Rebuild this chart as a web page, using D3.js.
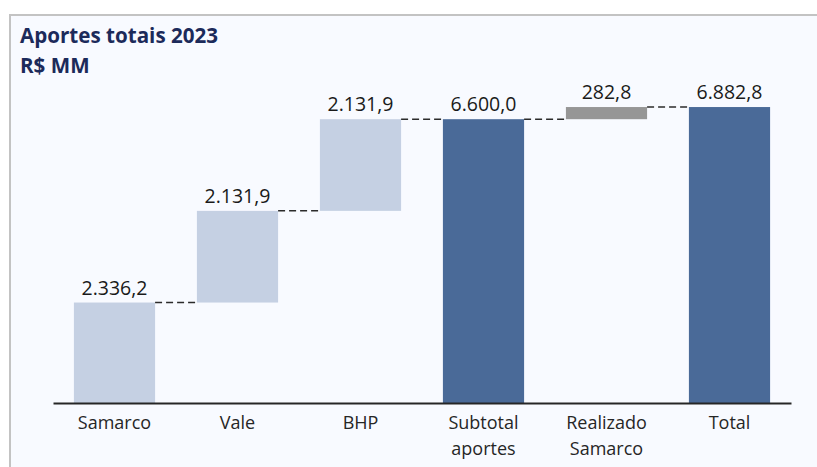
<!DOCTYPE html>
<html lang="pt">
<head>
    <meta charset="UTF-8">
    <title>Aportes totais 2023</title>
    <script src="https://cdn.jsdelivr.net/npm/d3@7"></script>
    <style>
        body { margin: 0; background: #ffffff; }
        .title { font-family: "Open Sans", sans-serif; font-weight: bold; font-size: 20.6px; fill: #1c2a5a; }
        .axis path, .axis line { stroke: #262626; }
        .axis text { font-family: "Open Sans", sans-serif; font-size: 18px; fill: #262626; }
        .val { font-family: "Open Sans", sans-serif; font-size: 19.5px; fill: #1a1a1a; }
    </style>
</head>
<body>
<script>
    // dados
    var categories = ["Samarco", "Vale", "BHP", "Subtotal aportes", "Realizado Samarco", "Total"];
    var values = [2336.2, 2131.9, 2131.9, 6600.0, 282.8, 6882.8];
    var kinds = ["aporte", "aporte", "aporte", "subtotal", "realizado", "total"];

    var width = 817;
    var height = 467;
    var svg = d3.select("body")
        .append("svg")
        .attr("width", width)
        .attr("height", height);

    // painel de fundo
    svg.append("rect")
        .attr("x", 10)
        .attr("y", 15)
        .attr("width", 820)
        .attr("height", 470)
        .attr("fill", "#f8faff")
        .attr("stroke", "#c3c3c3")
        .attr("stroke-width", 2);

    svg.append("text").attr("class", "title").attr("x", 20).attr("y", 43).text("Aportes totais 2023");
    svg.append("text").attr("class", "title").attr("x", 20).attr("y", 73).text("R$ MM");

    var br = d3.formatLocale({decimal: ",", thousands: ".", grouping: [3], currency: ["R$", ""]});
    var fmt = br.format(",.1f");

    var baseY = 403;
    var x = d3.scaleBand()
        .domain(categories)
        .range([53, 791])
        .paddingInner(0.34)
        .paddingOuter(0.17);
    var y = d3.scaleLinear()
        .domain([0, 7000])
        .range([baseY, baseY - 7000 * 0.043]);

    // calcula inicio/fim de cada barra (cascata)
    var running = 0;
    var bars = categories.map(function (c, i) {
        var v = values[i], start, end;
        if (kinds[i] === "subtotal" || kinds[i] === "total") {
            start = 0; end = v; running = v;
        } else {
            start = running; end = running + v; running = end;
        }
        return {cat: c, value: v, kind: kinds[i], start: start, end: end};
    });

    var colors = {aporte: "#c5d0e3", subtotal: "#4a6a98", realizado: "#969696", total: "#4a6a98"};

    svg.selectAll("rect.bar")
        .data(bars)
        .enter()
        .append("rect")
        .attr("class", "bar")
        .attr("x", function (d) { return x(d.cat); })
        .attr("y", function (d) { return y(d.end); })
        .attr("width", x.bandwidth())
        .attr("height", function (d) { return y(d.start) - y(d.end); })
        .attr("fill", function (d) { return colors[d.kind]; });

    // linhas tracejadas entre barras
    svg.selectAll("line.conn")
        .data(bars.slice(0, -1))
        .enter()
        .append("line")
        .attr("class", "conn")
        .attr("x1", function (d) { return x(d.cat) + x.bandwidth(); })
        .attr("x2", function (d, i) { return x(bars[i + 1].cat); })
        .attr("y1", function (d) { return y(d.end); })
        .attr("y2", function (d) { return y(d.end); })
        .attr("stroke", "#2b2b2b")
        .attr("stroke-width", 1.5)
        .attr("stroke-dasharray", "7,4");

    // rotulos de valor
    svg.selectAll("text.val")
        .data(bars)
        .enter()
        .append("text")
        .attr("class", "val")
        .attr("x", function (d) { return x(d.cat) + x.bandwidth() / 2; })
        .attr("y", function (d) { return y(d.end) - 8; })
        .attr("text-anchor", "middle")
        .text(function (d) { return fmt(d.value); });

    // eixo x
    var axis = d3.axisBottom(x).tickSize(0).tickPadding(0);
    var g = svg.append("g")
        .attr("class", "axis")
        .attr("transform", "translate(0," + baseY + ")")
        .call(axis);
    g.select(".domain").attr("stroke-width", 2);
    g.selectAll(".tick text").each(function (d) {
        var t = d3.select(this);
        var words = d.split(" ");
        t.text(null).attr("y", 0).attr("dy", null);
        words.forEach(function (w, k) {
            t.append("tspan")
                .attr("x", 0)
                .attr("y", 26 + k * 26)
                .text(w);
        });
    });
</script>
</body>
</html>
